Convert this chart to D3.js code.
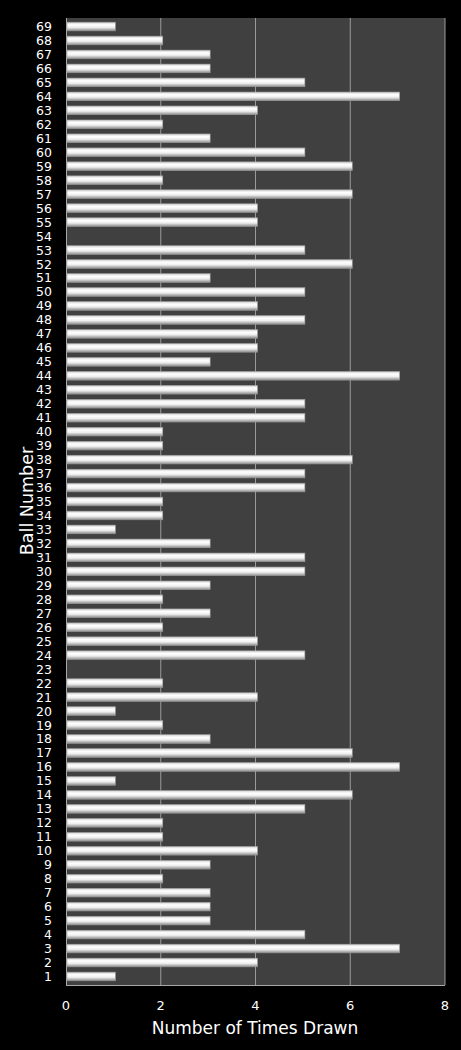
<!DOCTYPE html>
<html>
<head>
<meta charset="utf-8">
<script src="https://cdnjs.cloudflare.com/ajax/libs/d3/7.8.5/d3.min.js"></script>
<style>
  body { margin: 0; background: #000; }
  text { font-family: "DejaVu Sans", Verdana, sans-serif; fill: #fff; }
</style>
</head>
<body>
<div id="chart"></div>
<script>
// ball numbers 1..69 and how many times each was drawn
var balls = d3.range(1, 70);
var timesDrawn = [1, 4, 7, 5, 3, 3, 3, 2, 3, 4,
                  2, 2, 5, 6, 1, 7, 6, 3, 2, 1,
                  4, 2, 0, 5, 4, 2, 3, 2, 3, 5,
                  5, 3, 1, 2, 2, 5, 5, 6, 2, 2,
                  5, 5, 4, 7, 3, 4, 4, 5, 4, 5,
                  3, 6, 5, 0, 4, 4, 6, 2, 6, 5,
                  3, 2, 4, 7, 5, 3, 3, 2, 1];
var xTicks = [0, 2, 4, 6, 8];

var data = balls.map(function(b, i) { return {ball: b, n: timesDrawn[i]}; });

var margin = {top: 18, right: 16, bottom: 65, left: 66},
    width = 461 - margin.left - margin.right,
    height = 1050 - margin.top - margin.bottom;

var svg = d3.select("#chart").append("svg")
    .attr("width", 461)
    .attr("height", 1050);

var defs = svg.append("defs");
var grad = defs.append("linearGradient")
    .attr("id", "barGrad")
    .attr("x1", 0).attr("y1", 0).attr("x2", 0).attr("y2", 1);
grad.append("stop").attr("offset", "0%").attr("stop-color", "#cfcfcf");
grad.append("stop").attr("offset", "30%").attr("stop-color", "#ffffff");
grad.append("stop").attr("offset", "60%").attr("stop-color", "#eeeeee");
grad.append("stop").attr("offset", "100%").attr("stop-color", "#8c8c8c");

var g = svg.append("g")
    .attr("transform", "translate(" + margin.left + "," + margin.top + ")");

var x = d3.scaleLinear().domain([0, 8]).range([0, width]);
var y = d3.scaleBand()
    .domain(balls.slice().reverse())
    .range([0, height])
    .paddingInner(0.38)
    .paddingOuter(0.3);

g.append("rect")
    .attr("width", width)
    .attr("height", height)
    .attr("fill", "#404040");

// gridlines
g.selectAll(".grid")
    .data(xTicks.slice(1))
  .enter().append("line")
    .attr("class", "grid")
    .attr("x1", function(d) { return x(d); })
    .attr("x2", function(d) { return x(d); })
    .attr("y1", 0)
    .attr("y2", height)
    .attr("stroke", "#9a9a9a")
    .attr("stroke-width", 1);

// axis lines
g.append("line")
    .attr("x1", 0).attr("x2", width)
    .attr("y1", height + 0.5).attr("y2", height + 0.5)
    .attr("stroke", "#a8a8a8");
g.append("line")
    .attr("x1", 0.5).attr("x2", 0.5)
    .attr("y1", 0).attr("y2", height)
    .attr("stroke", "#a8a8a8");

g.selectAll(".bar")
    .data(data.filter(function(d) { return d.n > 0; }))
  .enter().append("rect")
    .attr("class", "bar")
    .attr("x", 1)
    .attr("y", function(d) { return y(d.ball); })
    .attr("width", function(d) { return x(d.n) + 1; })
    .attr("height", y.bandwidth())
    .attr("fill", "url(#barGrad)")
    .attr("stroke", "#a0a0a0")
    .attr("stroke-width", 0.6);

// y labels
g.selectAll(".ylab")
    .data(balls)
  .enter().append("text")
    .attr("class", "ylab")
    .attr("x", -14)
    .attr("y", function(d) { return y(d) + y.bandwidth() / 2; })
    .attr("dy", "0.36em")
    .attr("text-anchor", "end")
    .style("font-size", "12.5px")
    .text(function(d) { return d; });

// x labels
g.selectAll(".xlab")
    .data(xTicks)
  .enter().append("text")
    .attr("class", "xlab")
    .attr("x", function(d) { return x(d); })
    .attr("y", height + 25)
    .attr("text-anchor", "middle")
    .style("font-size", "13px")
    .text(function(d) { return d; });

svg.append("text")
    .attr("x", 255)
    .attr("y", 1034)
    .attr("text-anchor", "middle")
    .style("font-size", "17px")
    .text("Number of Times Drawn");

svg.append("text")
    .attr("transform", "translate(33,501) rotate(-90)")
    .attr("text-anchor", "middle")
    .style("font-size", "17.5px")
    .text("Ball Number");
</script>
</body>
</html>
